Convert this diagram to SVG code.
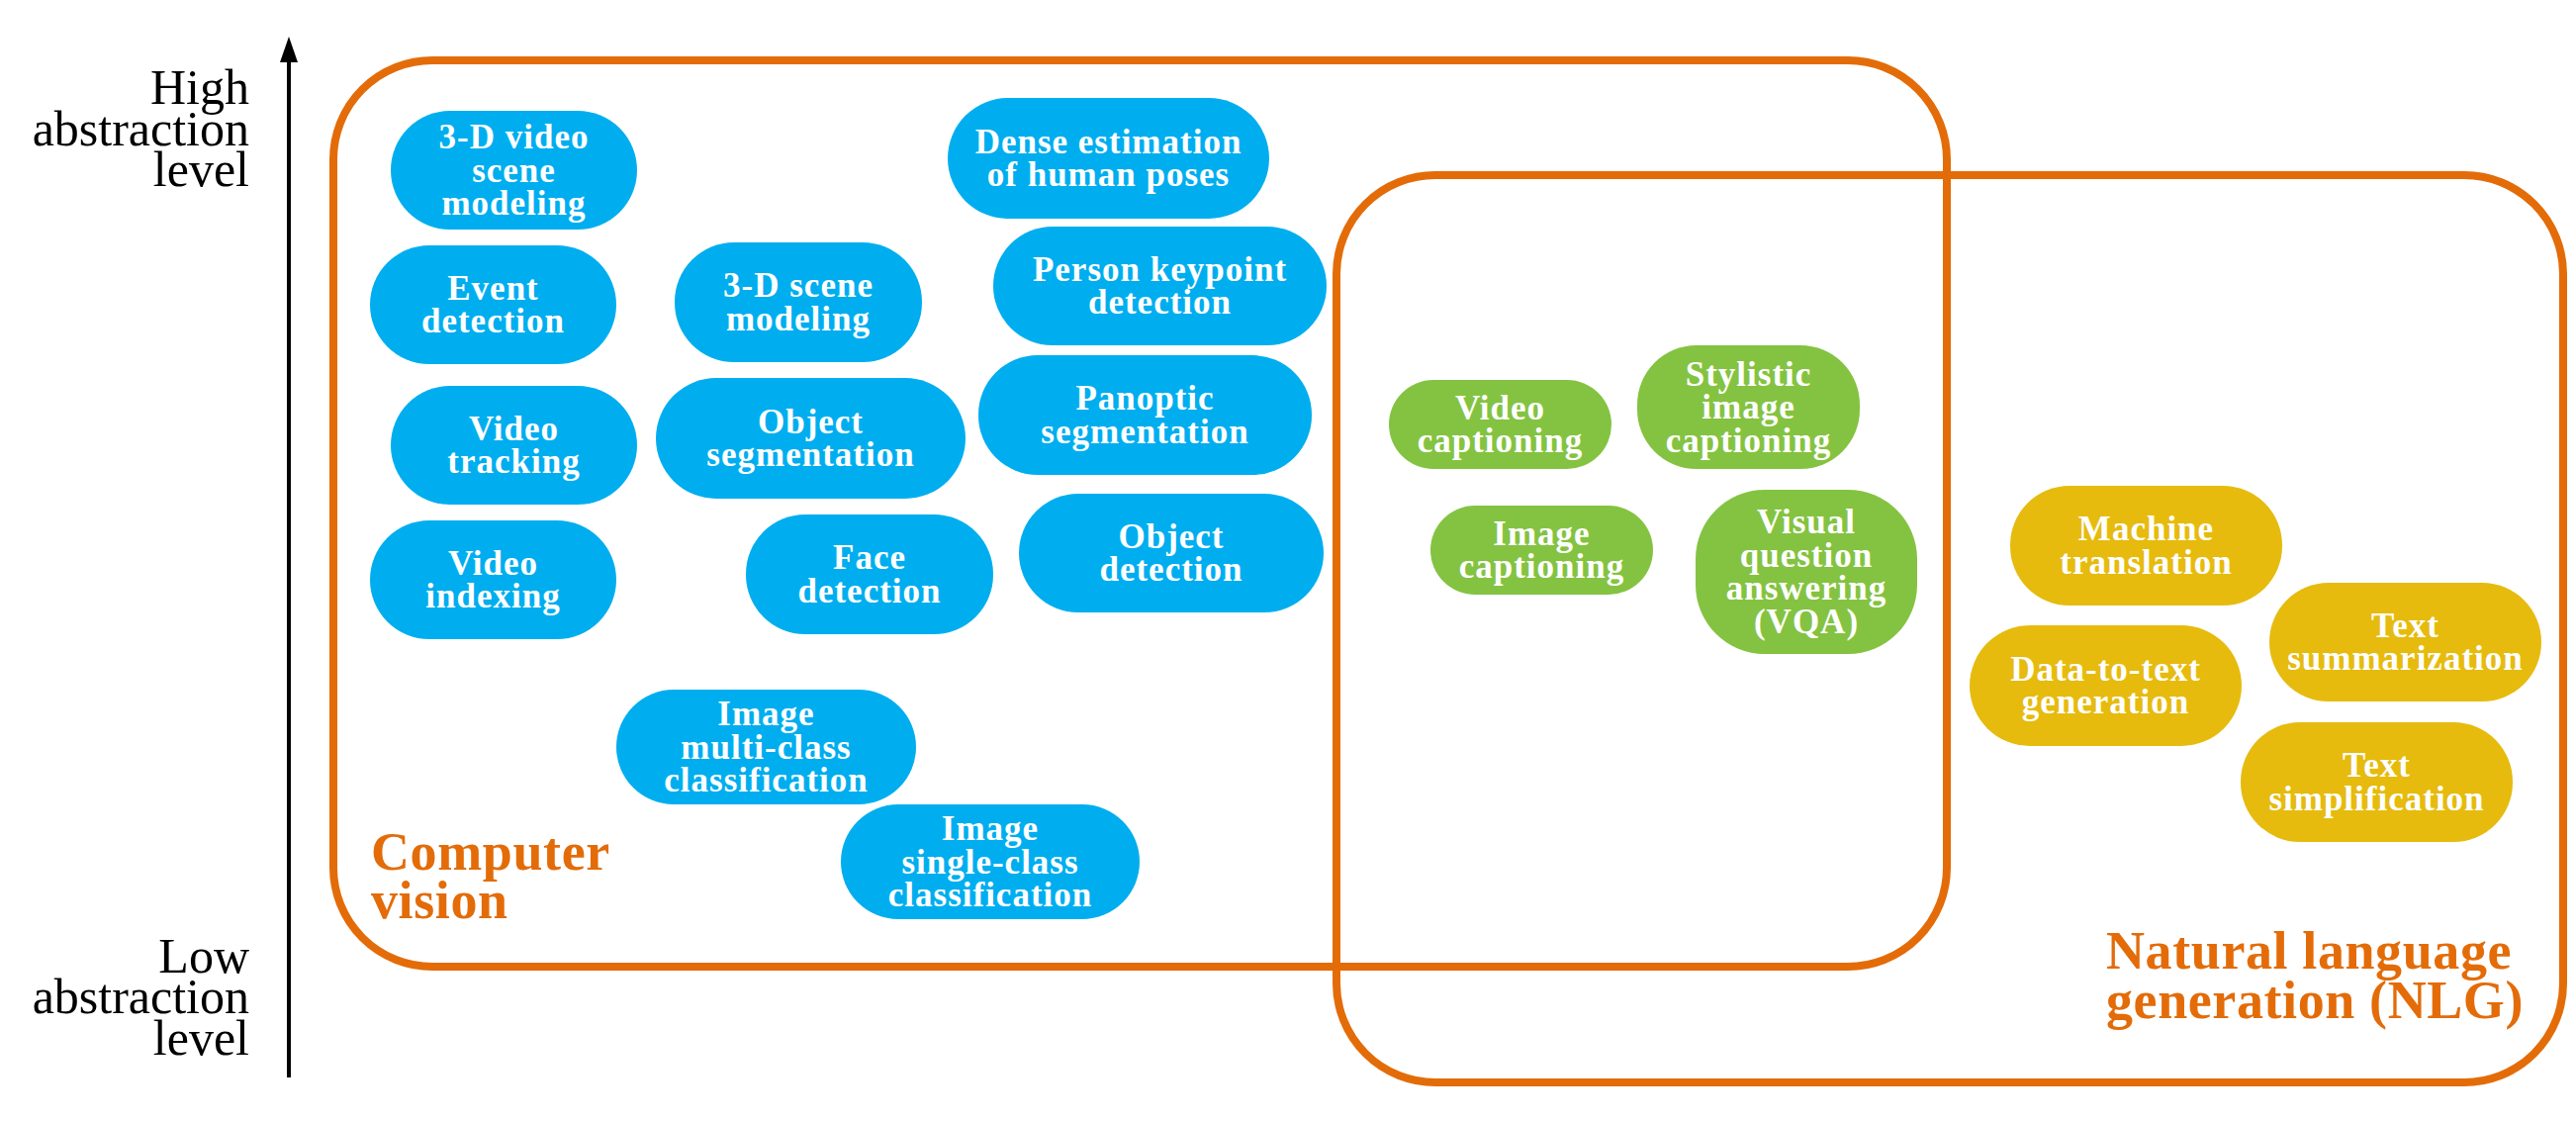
<svg xmlns="http://www.w3.org/2000/svg" width="2604" height="1133" viewBox="0 0 2604 1133">
<defs>
<style>
.bg{fill:#ffffff}
.area{fill:none;stroke:#E36C09;stroke-width:8}
.blue{fill:#00AEEF}
.green{fill:#84C341}
.gold{fill:#E6BB0E}
.nt{font-family:"Liberation Serif","Times New Roman",serif;font-weight:bold;font-size:35px;letter-spacing:1px;fill:#ffffff;text-anchor:middle}
.ax{font-family:"Liberation Serif","Times New Roman",serif;font-size:50px;fill:#000000;text-anchor:end}
.al{font-family:"Liberation Serif","Times New Roman",serif;font-weight:bold;font-size:54px;letter-spacing:0.6px;fill:#E36C09}
.axis{stroke:#000000;stroke-width:4;fill:none}
</style>
<marker id="arrow" markerUnits="userSpaceOnUse" markerWidth="28" markerHeight="20" refX="13" refY="10" orient="auto" viewBox="0 0 28 20">
<path d="M0 1 L26 10 L0 19 Z" fill="#000000"/>
</marker>
</defs>
<rect class="bg" x="0" y="0" width="2604" height="1133"/>

<g id="axis-labels">
<text class="ax"><tspan x="252" y="105">High</tspan><tspan x="252" y="147">abstraction</tspan><tspan x="252" y="188">level</tspan></text>
<text class="ax"><tspan x="252" y="983">Low</tspan><tspan x="252" y="1024">abstraction</tspan><tspan x="252" y="1066">level</tspan></text>
</g>

<g id="connectors">
<path class="axis" d="M292 1089 L292 50" marker-end="url(#arrow)"/>
</g>

<g id="area-cv">
<rect class="area" x="337" y="61" width="1631" height="916" rx="100" ry="100"/>
<text class="al"><tspan x="375" y="879">Computer</tspan><tspan x="375" y="928">vision</tspan></text>
</g>
<g id="area-nlg">
<rect class="area" x="1351" y="177" width="1240" height="917" rx="100" ry="100"/>
<text class="al"><tspan x="2129" y="979">Natural language</tspan><tspan x="2129" y="1029">generation (NLG)</tspan></text>
</g>

<g id="n-3d-video-scene">
<rect class="blue" x="395" y="112" width="249" height="120" rx="60"/>
<text class="nt"><tspan x="519.5" y="150">3-D video</tspan><tspan x="519.5" y="183.5">scene</tspan><tspan x="519.5" y="217">modeling</tspan></text>
</g>
<g id="n-event-detection">
<rect class="blue" x="374" y="248" width="249" height="120" rx="60"/>
<text class="nt"><tspan x="498.5" y="303">Event</tspan><tspan x="498.5" y="336">detection</tspan></text>
</g>
<g id="n-video-tracking">
<rect class="blue" x="395" y="390" width="249" height="120" rx="60"/>
<text class="nt"><tspan x="519.5" y="445">Video</tspan><tspan x="519.5" y="478">tracking</tspan></text>
</g>
<g id="n-video-indexing">
<rect class="blue" x="374" y="526" width="249" height="120" rx="60"/>
<text class="nt"><tspan x="498.5" y="581">Video</tspan><tspan x="498.5" y="614">indexing</tspan></text>
</g>
<g id="n-3d-scene">
<rect class="blue" x="682" y="245" width="250" height="121" rx="60"/>
<text class="nt"><tspan x="807" y="300">3-D scene</tspan><tspan x="807" y="334">modeling</tspan></text>
</g>
<g id="n-object-segmentation">
<rect class="blue" x="663" y="382" width="313" height="122" rx="61"/>
<text class="nt"><tspan x="819.5" y="438">Object</tspan><tspan x="819.5" y="471">segmentation</tspan></text>
</g>
<g id="n-face-detection">
<rect class="blue" x="754" y="520" width="250" height="121" rx="60"/>
<text class="nt"><tspan x="879" y="575">Face</tspan><tspan x="879" y="609">detection</tspan></text>
</g>
<g id="n-dense-pose">
<rect class="blue" x="958" y="99" width="325" height="122" rx="61"/>
<text class="nt"><tspan x="1120.5" y="155">Dense estimation</tspan><tspan x="1120.5" y="188">of human poses</tspan></text>
</g>
<g id="n-person-keypoint">
<rect class="blue" x="1004" y="229" width="337" height="120" rx="60"/>
<text class="nt"><tspan x="1172.5" y="284">Person keypoint</tspan><tspan x="1172.5" y="317">detection</tspan></text>
</g>
<g id="n-panoptic">
<rect class="blue" x="989" y="359" width="337" height="121" rx="60"/>
<text class="nt"><tspan x="1157.5" y="414">Panoptic</tspan><tspan x="1157.5" y="448">segmentation</tspan></text>
</g>
<g id="n-object-detection">
<rect class="blue" x="1030" y="499" width="308" height="120" rx="60"/>
<text class="nt"><tspan x="1184" y="554">Object</tspan><tspan x="1184" y="587">detection</tspan></text>
</g>
<g id="n-image-multi">
<rect class="blue" x="623" y="697" width="303" height="116" rx="58"/>
<text class="nt"><tspan x="774.5" y="733">Image</tspan><tspan x="774.5" y="766.5">multi-class</tspan><tspan x="774.5" y="800">classification</tspan></text>
</g>
<g id="n-image-single">
<rect class="blue" x="850" y="813" width="302" height="116" rx="58"/>
<text class="nt"><tspan x="1001" y="849">Image</tspan><tspan x="1001" y="882.5">single-class</tspan><tspan x="1001" y="916">classification</tspan></text>
</g>

<g id="n-video-captioning">
<rect class="green" x="1404" y="384" width="225" height="90" rx="45"/>
<text class="nt"><tspan x="1516.5" y="424">Video</tspan><tspan x="1516.5" y="457">captioning</tspan></text>
</g>
<g id="n-stylistic-captioning">
<rect class="green" x="1655" y="349" width="225" height="125" rx="60"/>
<text class="nt"><tspan x="1767.5" y="389.5">Stylistic</tspan><tspan x="1767.5" y="423">image</tspan><tspan x="1767.5" y="456.5">captioning</tspan></text>
</g>
<g id="n-image-captioning">
<rect class="green" x="1446" y="511" width="225" height="90" rx="45"/>
<text class="nt"><tspan x="1558.5" y="551">Image</tspan><tspan x="1558.5" y="584">captioning</tspan></text>
</g>
<g id="n-vqa">
<rect class="green" x="1714" y="495" width="224" height="166" rx="70"/>
<text class="nt"><tspan x="1826" y="539">Visual</tspan><tspan x="1826" y="573">question</tspan><tspan x="1826" y="606">answering</tspan><tspan x="1826" y="640">(VQA)</tspan></text>
</g>

<g id="n-machine-translation">
<rect class="gold" x="2032" y="491" width="275" height="121" rx="60"/>
<text class="nt"><tspan x="2169.5" y="546">Machine</tspan><tspan x="2169.5" y="580">translation</tspan></text>
</g>
<g id="n-data-to-text">
<rect class="gold" x="1991" y="632" width="275" height="122" rx="61"/>
<text class="nt"><tspan x="2128.5" y="688">Data-to-text</tspan><tspan x="2128.5" y="721">generation</tspan></text>
</g>
<g id="n-text-summarization">
<rect class="gold" x="2294" y="589" width="275" height="120" rx="60"/>
<text class="nt"><tspan x="2431.5" y="644">Text</tspan><tspan x="2431.5" y="677">summarization</tspan></text>
</g>
<g id="n-text-simplification">
<rect class="gold" x="2265" y="730" width="275" height="121" rx="60"/>
<text class="nt"><tspan x="2402.5" y="785">Text</tspan><tspan x="2402.5" y="819">simplification</tspan></text>
</g>
</svg>
